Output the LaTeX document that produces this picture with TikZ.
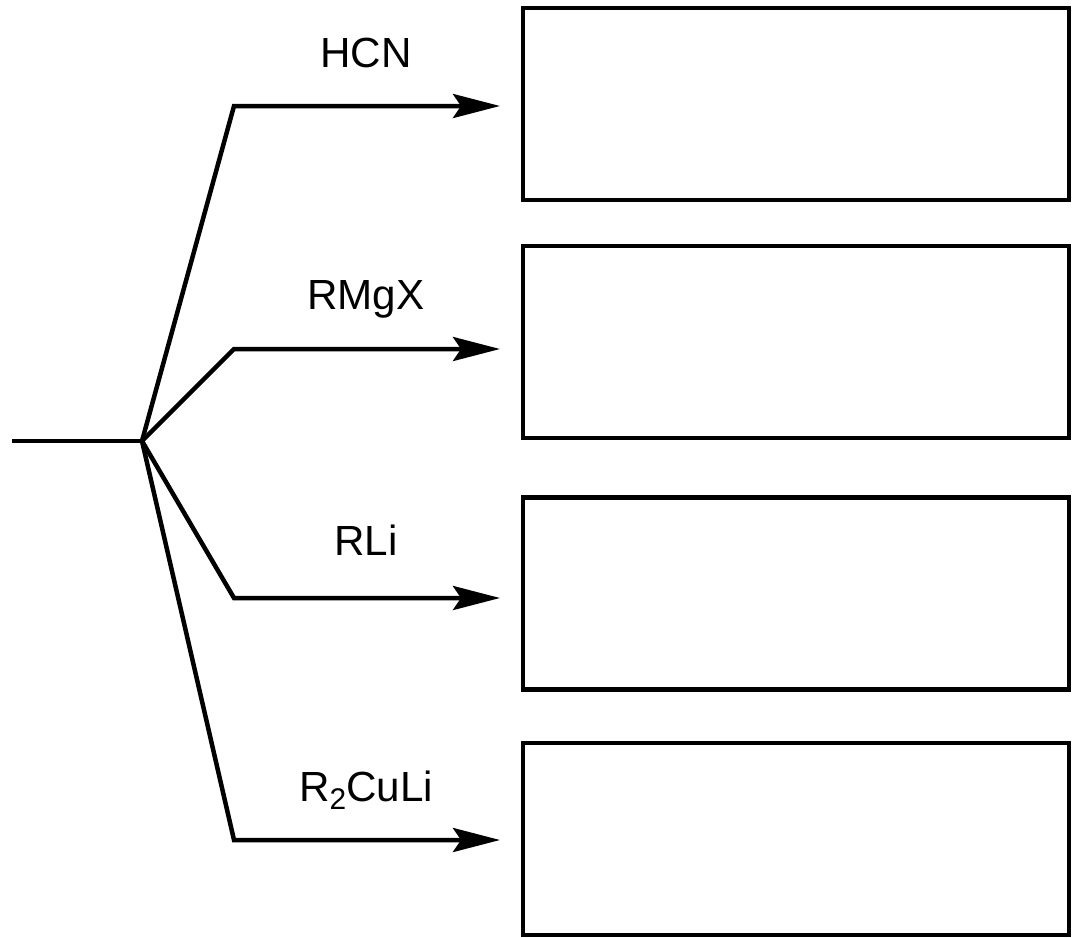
\documentclass[tikz,border=0pt]{standalone}
\usepackage{fontspec}
\setmainfont{Liberation Sans}
\usetikzlibrary{positioning,arrows.meta}

\begin{document}
\begin{tikzpicture}[
      x=0.02cm, y=-0.02cm,
      line width=0.09cm,
      every node/.style={
        align=center,
        font=\fontsize{24}{28}\selectfont
      },
      product/.style={
        draw, minimum width=10.92cm, minimum height=3.84cm, inner sep=0pt
      },
      reagent/.style={anchor=base},
      >={Stealth[length=0.94cm,width=0.48cm,inset=0.16cm]}
    ]
    \useasboundingbox (0,0) rectangle (1075,937);

    % Start and branch point
    \coordinate (start) at (12,441);
    \coordinate (fork) at (142,441);

    % Bends
    \coordinate (b1) at (234,106);
    \coordinate (b2) at (234,349);
    \coordinate (b3) at (234,598);
    \coordinate (b4) at (234,840);

    % Arrow tips
    \coordinate (t1) at (500,106);
    \coordinate (t2) at (500,349);
    \coordinate (t3) at (500,598);
    \coordinate (t4) at (500,840);

    % Reagents
    \node (hcn) [reagent] at (366,67) {HCN};
    \node (rmgx) [reagent] at (366,309) {RMgX};
    \node (rli) [reagent] at (366,555) {RLi};
    \node (cuprate) [reagent] at (366,801) {R\raisebox{-5pt}{\fontsize{17}{20}\selectfont 2}CuLi};

    % Empty product boxes
    \node (p1) [product] at (796,104) {};
    \node (p2) [product] at (796,342) {};
    \node (p3) [product] at (796,593.5) {};
    \node (p4) [product] at (796,839) {};

    % Lines
    \draw (start) -- (fork);
    \draw[->] (fork) -- (b1) -- (t1);
    \draw[->] (fork) -- (b2) -- (t2);
    \draw[->] (fork) -- (b3) -- (t3);
    \draw[->] (fork) -- (b4) -- (t4);
  \end{tikzpicture}
\end{document}
